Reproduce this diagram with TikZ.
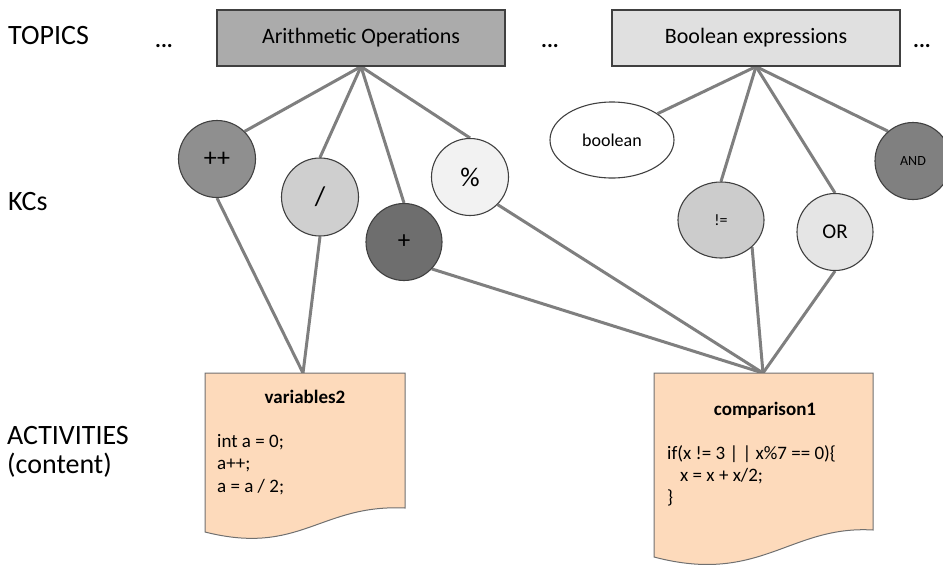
\documentclass[tikz,border=0pt]{standalone}
\usepackage{fontspec}
\setmainfont{Carlito}
\usetikzlibrary{shapes.geometric,backgrounds}
\definecolor{edgegray}{HTML}{7F7F7F}
\definecolor{bordergray}{HTML}{404040}
\definecolor{docfill}{HTML}{FDDABB}
\definecolor{docborder}{HTML}{707070}
\tikzset{
  topicbox/.style={draw=bordergray, line width=1.1pt, minimum width=288pt, minimum height=56pt, inner sep=0pt, font=\fontsize{22}{26}\selectfont},
  kcnode/.style={ellipse, draw=bordergray, line width=1.1pt, inner sep=0pt},
  link/.style={draw=edgegray, line width=3pt},
  rowlabel/.style={anchor=base west, inner sep=0pt, font=\fontsize{28}{32}\selectfont},
  dots/.style={anchor=base west, inner sep=0pt, font=\bfseries\fontsize{22}{26}\selectfont},
  docshape/.style={fill=docfill, draw=docborder, line width=1pt},
  doctitle/.style={anchor=base, inner sep=0pt, font=\bfseries\fontsize{19}{22}\selectfont},
  codeline/.style={anchor=base west, inner sep=0pt, font=\fontsize{19}{22}\selectfont}
}
\begin{document}
\begin{tikzpicture}[x=1pt,y=-1pt]
\useasboundingbox (0,0) rectangle (943,566);

% row labels
\node[rowlabel] (ltopics) at (8,44) {TOPICS};
\node[rowlabel] (lkcs) at (8,210) {KCs};
\node[rowlabel] (lact) at (7,444) {ACTIVITIES};
\node[rowlabel] (lcont) at (7,473) {(content)};

% dots
\node[dots] (d1) at (155,47) {...};
\node[dots] (d2) at (541,47) {...};
\node[dots] (d3) at (913,47) {...};

% documents
\path[docshape] (205,373) -- (405,373) -- (405,508) .. controls (320,504) and (300,556) .. (205,532) -- cycle;
\coordinate (v2top) at (303,373);
\node[doctitle] (v2title) at (305,403) {variables2};
\node[codeline] (v2c1) at (217,447) {int a = 0;};
\node[codeline] (v2c2) at (217,469.5) {a++;};
\node[codeline] (v2c3) at (217,492) {a = a / 2;};

\path[docshape] (654,373) -- (873,373) -- (873,530) .. controls (790,525) and (760,585) .. (654,557) -- cycle;
\coordinate (c1top) at (763,373);
\node[doctitle] (c1title) at (765,415) {comparison1};
\node[codeline] (c1c1) at (667,459) {if(x != 3 | | x\%7 == 0)\{};
\node[codeline] (c1c2) at (680,481) {x = x + x/2;};
\node[codeline] (c1c3) at (667,503) {\}};

% topics
\node[topicbox, fill=black!33] (arith) at (361,38) {Arithmetic Operations};
\node[topicbox, fill=black!12] (bool) at (756,38) {Boolean expressions};

% KCs
\node[kcnode, fill=black!44, minimum width=77pt, minimum height=77pt, font=\fontsize{26}{28}\selectfont] (pp) at (217,159) {++};
\node[kcnode, fill=black!19, minimum width=77pt, minimum height=78pt, font=\fontsize{27}{28}\selectfont] (div) at (320,197) {/};
\node[kcnode, fill=black!57, minimum width=76pt, minimum height=77pt, font=\fontsize{25}{26}\selectfont] (plus) at (404,242) {+};
\node[kcnode, fill=black!5, minimum width=77pt, minimum height=77pt, font=\fontsize{27}{28}\selectfont] (mod) at (470,177) {\%};
\node[kcnode, fill=white, minimum width=124pt, minimum height=76pt, font=\fontsize{18}{21}\selectfont] (boolkc) at (612,140) {boolean};
\node[kcnode, fill=black!20, minimum width=86pt, minimum height=76pt, font=\fontsize{16}{18}\selectfont] (neq) at (721,220) {!=};
\node[kcnode, fill=black!10, minimum width=76pt, minimum height=77pt, font=\fontsize{21}{24}\selectfont] (or) at (835,232) {OR};
\node[kcnode, fill=black!50, minimum width=76pt, minimum height=77pt, font=\fontsize{14}{17}\selectfont] (and) at (913,161) {AND};

% connectors (behind nodes)
\begin{pgfonlayer}{background}
\draw[link] (arith.south) -- (pp.45);
\draw[link] (arith.south) -- (div.north);
\draw[link] (arith.south) -- (plus.north);
\draw[link] (arith.south) -- (mod.north);
\draw[link] (bool.south) -- (boolkc.30);
\draw[link] (bool.south) -- (neq.north);
\draw[link] (bool.south) -- (or.north);
\draw[link] (bool.south) -- (and.130);
\draw[link] (pp.south) -- (v2top);
\draw[link] (div.south) -- (v2top);
\draw[link] (plus.-44) -- (c1top);
\draw[link] (mod.-45) -- (c1top);
\draw[link] (neq.-41) -- (c1top);
\draw[link] (or.south) -- (c1top);
\end{pgfonlayer}
\end{tikzpicture}
\end{document}
